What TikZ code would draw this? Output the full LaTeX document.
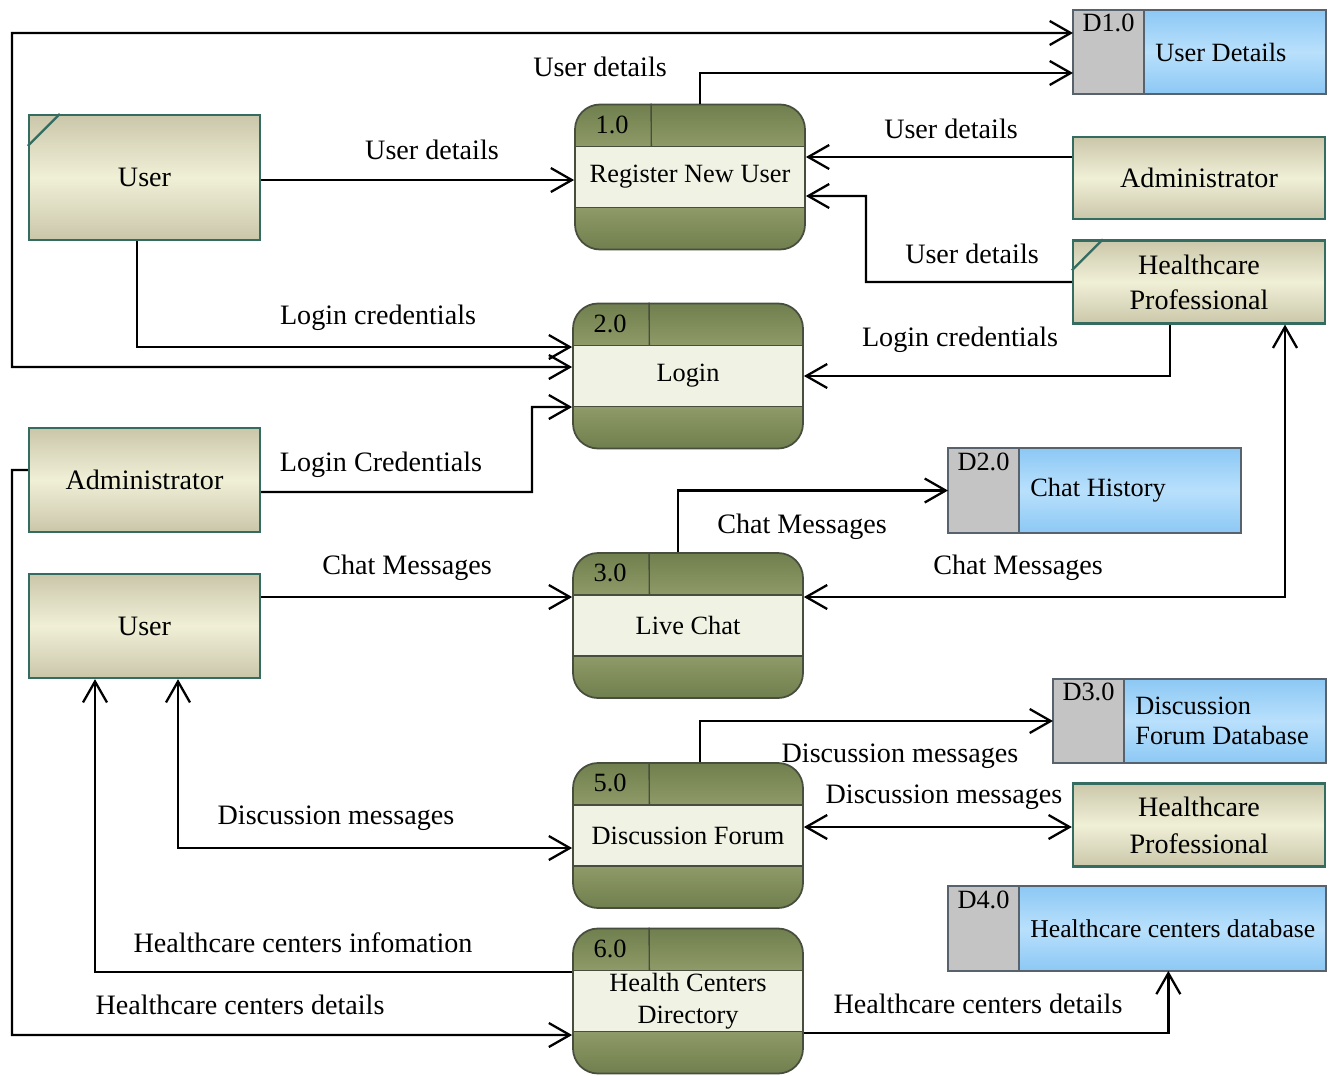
\documentclass[tikz,border=0pt]{standalone}
\usepackage{fontspec}
\setmainfont{Liberation Serif}
\usetikzlibrary{arrows.meta}

\definecolor{entline}{RGB}{52,108,98}
\definecolor{entedge}{RGB}{202,198,170}
\definecolor{entmid}{RGB}{240,240,215}
\definecolor{procdark}{RGB}{112,127,78}
\definecolor{proclight}{RGB}{165,175,122}
\definecolor{procband}{RGB}{240,242,228}
\definecolor{procline}{RGB}{72,78,62}
\definecolor{storeblue}{RGB}{140,200,244}
\definecolor{storelight}{RGB}{185,224,252}
\definecolor{storegray}{RGB}{196,196,196}
\definecolor{storeline}{RGB}{88,98,108}

\begin{document}
\begin{tikzpicture}[x=0.2mm,y=-0.2mm,font=\fontsize{15}{18}\selectfont,
  flow/.style={line width=1.3pt,-{Straight Barb[length=4.2mm,width=4.8mm]}},
  flowboth/.style={line width=1.3pt,{Straight Barb[length=4.2mm,width=4.8mm]}-{Straight Barb[length=4.2mm,width=4.8mm]}},
  ent/.style={draw=entline,line width=1.3pt,inner sep=0pt,align=center,
    top color=entedge,bottom color=entedge,middle color=entmid,
    font=\fontsize{16}{19}\selectfont},
  proc/.style={draw=procline,line width=1pt,rounded corners=5mm,inner sep=0pt,
    minimum width=46mm,minimum height=29mm,
    top color=procdark,bottom color=procdark,middle color=proclight},
  procband/.style={draw=procline,line width=0.8pt,fill=procband,inner sep=0pt,
    minimum width=46mm,minimum height=12.2mm,align=center,
    font=\fontsize{15}{18.5}\selectfont},
  store/.style={inner sep=0pt,minimum height=16.8mm,
    top color=storeblue,bottom color=storeblue,middle color=storelight},
  lbl/.style={inner sep=1pt,font=\fontsize{16}{19}\selectfont}]
  \fill[white] (0,0) rectangle (1334,1075);
  \useasboundingbox (0,0) rectangle (1334,1075);

  % external entities
  \foreach \nm/\x/\y/\w/\h/\t in {u1/144.5/177.5/46.2/25/User,
      a1/1199/178/50.4/16.4/Administrator,
      h1/1199/282/50.4/16.6/{Healthcare\\[1pt]Professional},
      a2/144.5/480/46.2/20.8/Administrator,
      u2/144.5/626/46.2/20.8/User,
      h2/1199/825/50.4/16.6/{Healthcare\\[2pt]Professional}}
    \node[ent,minimum width=\w mm,minimum height=\h mm] (\nm) at (\x,\y) {\t};
  \draw[entline,line width=1.3pt] ([yshift=-6.4mm]u1.north west) -- ([xshift=6.4mm]u1.north west);
  \draw[entline,line width=1.3pt] ([yshift=-6.2mm]h1.north west) -- ([xshift=6.2mm]h1.north west);

  % processes
  \foreach \n/\x/\y/\id/\t in {1/690/177/1.0/Register New User, 2/688/376/2.0/Login,
      3/688/625.5/3.0/Live Chat, 5/688/835.5/5.0/Discussion Forum,
      6/688/1001/6.0/{Health Centers\\Directory}} {
    \node[proc] (p\n) at (\x,\y) {};
    \node[procband] (b\n) at (p\n.center) {\t};
    \draw[procline,line width=0.8pt] ([xshift=15.4mm]p\n.north west) -- ([xshift=15.4mm]b\n.north west);
    \node (id\n) at ([xshift=7.6mm,yshift=-4.2mm]p\n.north west) {\id};
  }

  % data stores
  \foreach \nm/\x/\y/\w/\id/\t in {d1/1073/52/50.4/D1.0/User Details,
      d2/948/490.5/58.4/D2.0/Chat History,
      d3/1053/721/54.4/D3.0/{Discussion\\Forum Database},
      d4/948/928.5/75.4/D4.0/{\fontsize{14.6}{17}\selectfont Healthcare centers database}} {
    \node[store,minimum width=\w mm,anchor=west] (\nm) at (\x,\y) {};
    \fill[storegray] (\nm.north west) rectangle ([xshift=14.2mm]\nm.south west);
    \draw[storeline,line width=1pt] (\nm.north west) rectangle (\nm.south east);
    \draw[storeline,line width=1pt] ([xshift=14.2mm]\nm.north west) -- ([xshift=14.2mm]\nm.south west);
    \node[anchor=north,inner sep=0pt] (\nm id) at ([xshift=7.1mm,yshift=-0.8mm]\nm.north west) {\id};
    \node[anchor=west,align=left,inner sep=0pt,font=\fontsize{15}{17.5}\selectfont] (\nm t) at ([xshift=16.4mm]\nm.west) {\t};
  }

  % data flows
  \draw[flowboth] ([yshift=1.8mm]p2.west) -| (12,33) -- ([yshift=3.8mm]d1.west);
  \draw[flow] ([yshift=2mm]a2.west) -- (12,470) |- ([yshift=-6.8mm]p6.west);
  \draw[flow] ([yshift=-0.5mm]u1.east) -- ([yshift=-0.5mm]u1.east -| p1.west);
  \draw[flow] ([xshift=-1.5mm]u1.south) |- ([yshift=5.8mm]p2.west);
  \draw[flow] ([xshift=2mm]p1.north) |- ([yshift=-4.2mm]d1.west);
  \draw[flow] ([yshift=4.2mm]a1.west) -- ([yshift=4.2mm]a1.west -| p1.east);
  \draw[flow] (h1.west) -| (866,196) -- ([yshift=-3.8mm]p1.east);
  \draw[flow] ([xshift=-5.8mm]h1.south) |- (p2.east);
  \draw[flow] ([yshift=-2.4mm]a2.east) -| (532,407) -- ([yshift=-6.2mm]p2.west);
  \draw[flow] ([xshift=-2mm]p3.north) |- (d2.west);
  \draw[flow] ([yshift=5.8mm]u2.east) -- ([yshift=5.8mm]u2.east -| p3.west);
  \draw[flowboth] ([xshift=17.2mm]h1.south) |- ([yshift=5.7mm]p3.east);
  \draw[flow] ([xshift=2.4mm]p5.north) |- (d3.west);
  \draw[flowboth] ([yshift=1.7mm]p5.east) -- ([yshift=1.7mm]p5.east -| h2.west);
  \draw[flowboth] ([xshift=6.7mm]u2.south) |- ([yshift=-2.5mm]p5.west);
  \draw[flow] ([yshift=5.8mm]p6.west) -| ([xshift=-9.9mm]u2.south);
  \draw[flow] ([yshift=-6.4mm]p6.east) -| ([xshift=6.3mm]d4.south);

  % flow labels
  \foreach \x/\y/\t [count=\i] in {600/67/User details, 432/150/User details,
      951/129/User details, 972/254/User details, 378/318/Login credentials,
      960/340/Login credentials, 381/465/Login Credentials, 802/527/Chat Messages,
      407/568/Chat Messages, 1018/568/Chat Messages, 900/756/Discussion messages,
      944/797/Discussion messages, 336/818/Discussion messages,
      303/943/Healthcare centers infomation, 240/1005/Healthcare centers details,
      978/1004/Healthcare centers details}
    \node[lbl] (lbl\i) at (\x,\y) {\t};
\end{tikzpicture}
\end{document}
